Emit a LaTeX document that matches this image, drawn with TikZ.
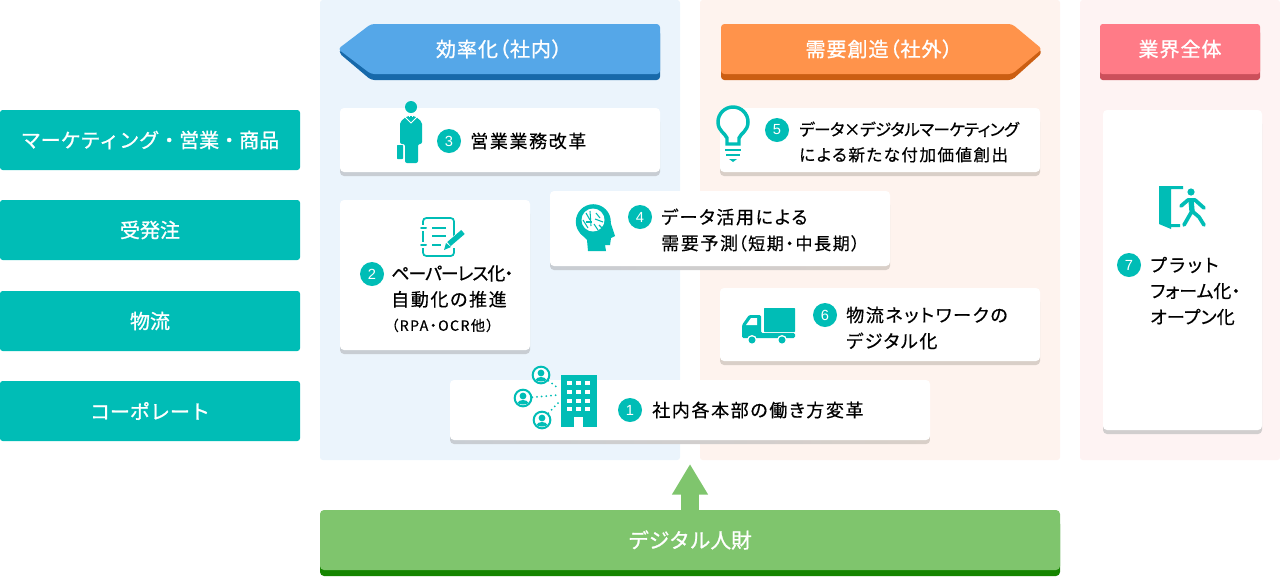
\documentclass[tikz,border=0pt]{standalone}
\usepackage{fontspec}
\setmainfont{Noto Sans CJK JP}[RawFeature=+palt, LetterSpace=9, FakeBold=0.5]
\newfontfamily\midfont{Noto Sans CJK JP}[RawFeature=+palt, LetterSpace=5, FakeBold=1]
\newfontfamily\sidefont{Noto Sans CJK JP}[FakeBold=1]
\newfontfamily\numfont{Liberation Sans}
\newcommand{\lsp}[1]{\addfontfeature{LetterSpace=#1}}
\usetikzlibrary{arrows.meta}
\definecolor{teal0}{HTML}{00BDB6}
\definecolor{panelblue}{HTML}{EBF4FC}
\definecolor{panelorange}{HTML}{FEF3EE}
\definecolor{panelpink}{HTML}{FEF3F3}
\definecolor{headblue}{HTML}{55A7E8}
\definecolor{headblue2}{HTML}{1769AA}
\definecolor{headorange}{HTML}{FF934B}
\definecolor{headorange2}{HTML}{CB5E12}
\definecolor{headpink}{HTML}{FF7B87}
\definecolor{headpink2}{HTML}{CC4F5B}
\definecolor{shblue}{HTML}{C8CDD3}
\definecolor{shorange}{HTML}{D9CFC8}
\definecolor{barmain}{HTML}{7FC56D}
\definecolor{bardark}{HTML}{158500}
\tikzset{
  sidelabel/.style={fill=teal0, text=white, rounded corners=2pt, minimum width=225pt, minimum height=45pt, inner sep=0pt, font=\fontsize{15}{18}\sidefont},
  headlabel/.style={text=white, inner sep=0pt, font=\fontsize{15}{18}\midfont},
  bodytext/.style={anchor=west, align=left, inner sep=0pt, font=\fontsize{13.5}{19.5}\selectfont},
  numdot/.style={circle, fill=teal0, text=white, minimum size=18pt, inner sep=0pt, font=\fontsize{11}{12}\numfont},
}
\begin{document}
\begin{tikzpicture}[x=0.75pt, y=-0.75pt]
  \useasboundingbox (0,0) rectangle (1280,576);
  % panels
  \fill[panelblue, rounded corners=2pt] (320,0) rectangle (680,460);
  \fill[panelorange, rounded corners=2pt] (700,0) rectangle (1060,460);
  \fill[panelpink, rounded corners=2pt] (1080,0) rectangle (1280,460);
  % left column
  \foreach \nm/\y/\txt in {sales/140/マーケティング・営業・商品, order/230/受発注, logi/321/物流, corp/411/コーポレート} {
    \node[sidelabel] (\nm) at (150,\y) {\txt};
  }
  % headers
  \fill[headblue2, rounded corners=2.5pt] (660,30) -- (660,80) -- (371,80) -- (339,53) -- (341,49) -- (371,30) -- cycle;
  \fill[headblue, rounded corners=2.5pt] (660,24) -- (660,74) -- (371,74) -- (338,49) -- (371,24) -- cycle;
  \node[headlabel] (inner) at (499,49) {効率化（社内）};
  \fill[headorange2, rounded corners=2.5pt] (721,30) -- (721,80) -- (1012,80) -- (1042,53) -- (1039,49) -- (1012,30) -- cycle;
  \fill[headorange, rounded corners=2.5pt] (721,24) -- (721,74) -- (1012,74) -- (1042,49) -- (1012,24) -- cycle;
  \node[headlabel] (outer) at (879,49) {需要創造（社外）};
  \fill[headpink2, rounded corners=2pt] (1100,30) rectangle (1260,80);
  \fill[headpink, rounded corners=2pt] (1100,24) rectangle (1260,74);
  \node[headlabel] (whole) at (1180,49) {業界全体};
  % cards
  \foreach \xa/\ya/\xb/\yb/\sh in {340/108/660/172/shblue, 340/200/530/350/shblue, 720/108/1040/172/shorange, 720/288/1040/361/shorange, 1103/110/1262/430/shblue!50!shorange} {
    \fill[\sh, rounded corners=3pt] (\xa,\ya+10) rectangle (\xb,\yb+4);
    \fill[white, rounded corners=3pt] (\xa,\ya) rectangle (\xb,\yb);
  }
  \foreach \xa/\ya/\xb/\yb in {550/191/890/266, 450/380/930/440} {
    \shade[left color=shblue, right color=shorange, rounded corners=3pt] (\xa,\ya+10) rectangle (\xb,\yb+4);
    \fill[white, rounded corners=3pt] (\xa,\ya) rectangle (\xb,\yb);
  }
  % numbers and texts
  \foreach \nm/\x/\y/\n in {n1/630/410/1, n2/372/274/2, n3/449/141/3, n4/640/217/4, n5/777/130/5, n6/825/315/6, n7/1129/265/7} {
    \node[numdot] (\nm) at (\x,\y) {\n};
  }
  \node[bodytext] (t1) at (652,410) {社内各本部の働き方変革};
  \node[bodytext, anchor=north west] (t2) at (391,265) {{\lsp{-6}ペーパーレス化・}\\自動化の推進\\[-1pt]{\fontsize{10.6}{16}\selectfont\lsp{10}（RPA・OCR他）}};
  \node[bodytext] (t3) at (470,141) {営業業務改革};
  \node[bodytext] (t4) at (661,230) {データ活用による\\需要予測{\fontsize{12.8}{19}\selectfont（短期・中長期）}};
  \node[bodytext, font=\fontsize{12.4}{19}\selectfont] (t5) at (799,142) {{\lsp{-3}データ×デジタルマーケティング}\\による新たな付加価値創出};
  \node[bodytext] (t6) at (846,328) {物流ネットワークの\\デジタル化};
  \node[bodytext] (t7) at (1150,291) {{\lsp{15}プラット}\\{\lsp{0}フォーム化・}\\{\lsp{1}オープン化}};
  % bottom bar and arrow
  \fill[bardark, rounded corners=3pt] (320,520) rectangle (1060,576);
  \node[fill=barmain, text=white, rounded corners=3pt, minimum width=555pt, minimum height=45pt, inner sep=0pt, font=\fontsize{15.5}{18}\sidefont] (talent) at (690,540) {デジタル人財};
  \coordinate (uptip) at (690,464);
  \draw[barmain, line width=13.5pt, -{Triangle[length=23pt, width=25.5pt]}] (talent.north) -- (uptip);
  % icon: person
  \fill[teal0] (411,107) circle (6);
  \fill[teal0, rounded corners=1.5pt] (400,144) -- (400,122) -- (407,116) -- (415,116) -- (422,122) -- (422,144) -- (418,144) -- (418,163) -- (405,163) -- (405,144) -- cycle;
  \draw[white, line width=0.6pt] (405,117) -- (411,123) -- (417,117);
  \fill[white] (409,115) rectangle (413,117);
  \fill[teal0] (410,115.5) rectangle (412,120);
  \fill[teal0, rounded corners=0.5pt] (397,145) rectangle (403,159);
  % icon: memo
  \draw[teal0, line width=1.3pt, rounded corners=2.5pt] (454,238) -- (454,218) -- (423,218) -- (423,256) -- (454,256) -- (454,248);
  \fill[white] (419,225) rectangle (428,231);
  \fill[white] (419,242) rectangle (428,248);
  \foreach \y in {228,245} { \draw[teal0, line width=1.5pt, line cap=round] (421,\y) -- (426,\y); }
  \foreach \y/\xe in {228/446, 236/446, 245/441} { \draw[teal0, line width=1.2pt] (432,\y) -- (\xe,\y); }
  \draw[white, line width=6pt] (447,247) -- (464,232);
  \draw[teal0, line width=4pt] (449,244) -- (463,232);
  \fill[teal0] (444,250) -- (446,243) -- (451,247) -- cycle;
  % icon: brain head
  \fill[teal0] (593.3,221.7) circle (17.5);
  \fill[teal0] (580,233) -- (587,240) -- (588,251) -- (606,251) -- (605,245) -- (610,245) -- (611,238) -- (615,236) -- (608,215) -- cycle;
  \fill[white] (593,220) circle (11.5);
  \foreach \a/\b/\c/\d in {586/213/590/220, 590/211/591/226, 596/213/600/218, 583/220/588/228, 595/219/603/222, 594/224/598/230, 599/225/602/228, 586/222/592/222} {
    \draw[teal0, line width=0.8pt] (\a,\b) -- (\c,\d);
  }
  % icon: bulb
  \draw[teal0, line width=2.6pt] (727,144) -- (727,138) .. controls (725,133) and (718,131) .. (718,122) arc (180:360:15) .. controls (748,131) and (741,133) .. (739,138) -- (739,144) -- cycle;
  \foreach \y/\w in {150/8, 155/7} { \draw[teal0, line width=2pt] (733-\w,\y) -- (733+\w,\y); }
  \fill[teal0] (729,159) -- (737,159) -- (733,162) -- cycle;
  % icon: truck
  \fill[teal0, rounded corners=0.5pt] (764,308) rectangle (795,332);
  \fill[teal0, rounded corners=1pt] (742,338) -- (742,325) -- (749,315) -- (761,315) -- (761,333) -- (795,333) -- (795,338) -- cycle;
  \fill[white] (746,325) -- (751,318) -- (757,318) -- (757,325) -- cycle;
  \foreach \x in {752,782} { \fill[white] (\x,340) circle (5); \fill[teal0] (\x,340) circle (3.5); }
  % icon: exit
  \fill[teal0] (1159,186) -- (1183,186) -- (1183,189) -- (1171,189) -- (1171,224) -- (1180,224) -- (1180,227) -- (1171,227) -- (1171,229) -- (1159,224) -- cycle;
  \fill[teal0] (1191,192) circle (3.6);
  \draw[teal0, line width=2.8pt, line join=round, line cap=round] (1181,206) -- (1188,200) -- (1195,200) -- (1204,208);
  \draw[teal0, line width=4pt, line join=round] (1191,200) -- (1192,211);
  \draw[teal0, line width=2.8pt, line join=round, line cap=round] (1184,225) -- (1192,211) -- (1199,217) -- (1204,225);
  % icon: staff and building
  \foreach \nm/\x/\y in {pa/541/375, pb/523/398, pc/542/420} {
    \node[circle, draw=teal0, fill=white, line width=1.5pt, minimum size=12.5pt, inner sep=0pt] (\nm) at (\x,\y) {};
    \fill[teal0] (\x,\y-2) circle (3.4);
    \fill[teal0] (\x-5.5,\y+5) .. controls (\x-4,\y+1) and (\x+4,\y+1) .. (\x+5.5,\y+5) .. controls (\x+3,\y+7) and (\x-3,\y+7) .. (\x-5.5,\y+5) -- cycle;
  }
  \foreach \nm/\hy in {pa/388, pb/395, pc/403} {
    \coordinate (h\nm) at (558,\hy);
    \draw[teal0, line width=1.5pt, line cap=round, dash pattern=on 0pt off 3.5pt] (\nm) -- (h\nm);
  }
  \fill[teal0] (561,375) rectangle (597,427);
  \foreach \x in {569,578,587} {
    \foreach \y in {383,392,401,409} { \fill[white] (\x-2.5,\y-2) rectangle (\x+2.5,\y+2); }
  }
  \fill[white] (574,417) rectangle (583,427);
\end{tikzpicture}
\end{document}
